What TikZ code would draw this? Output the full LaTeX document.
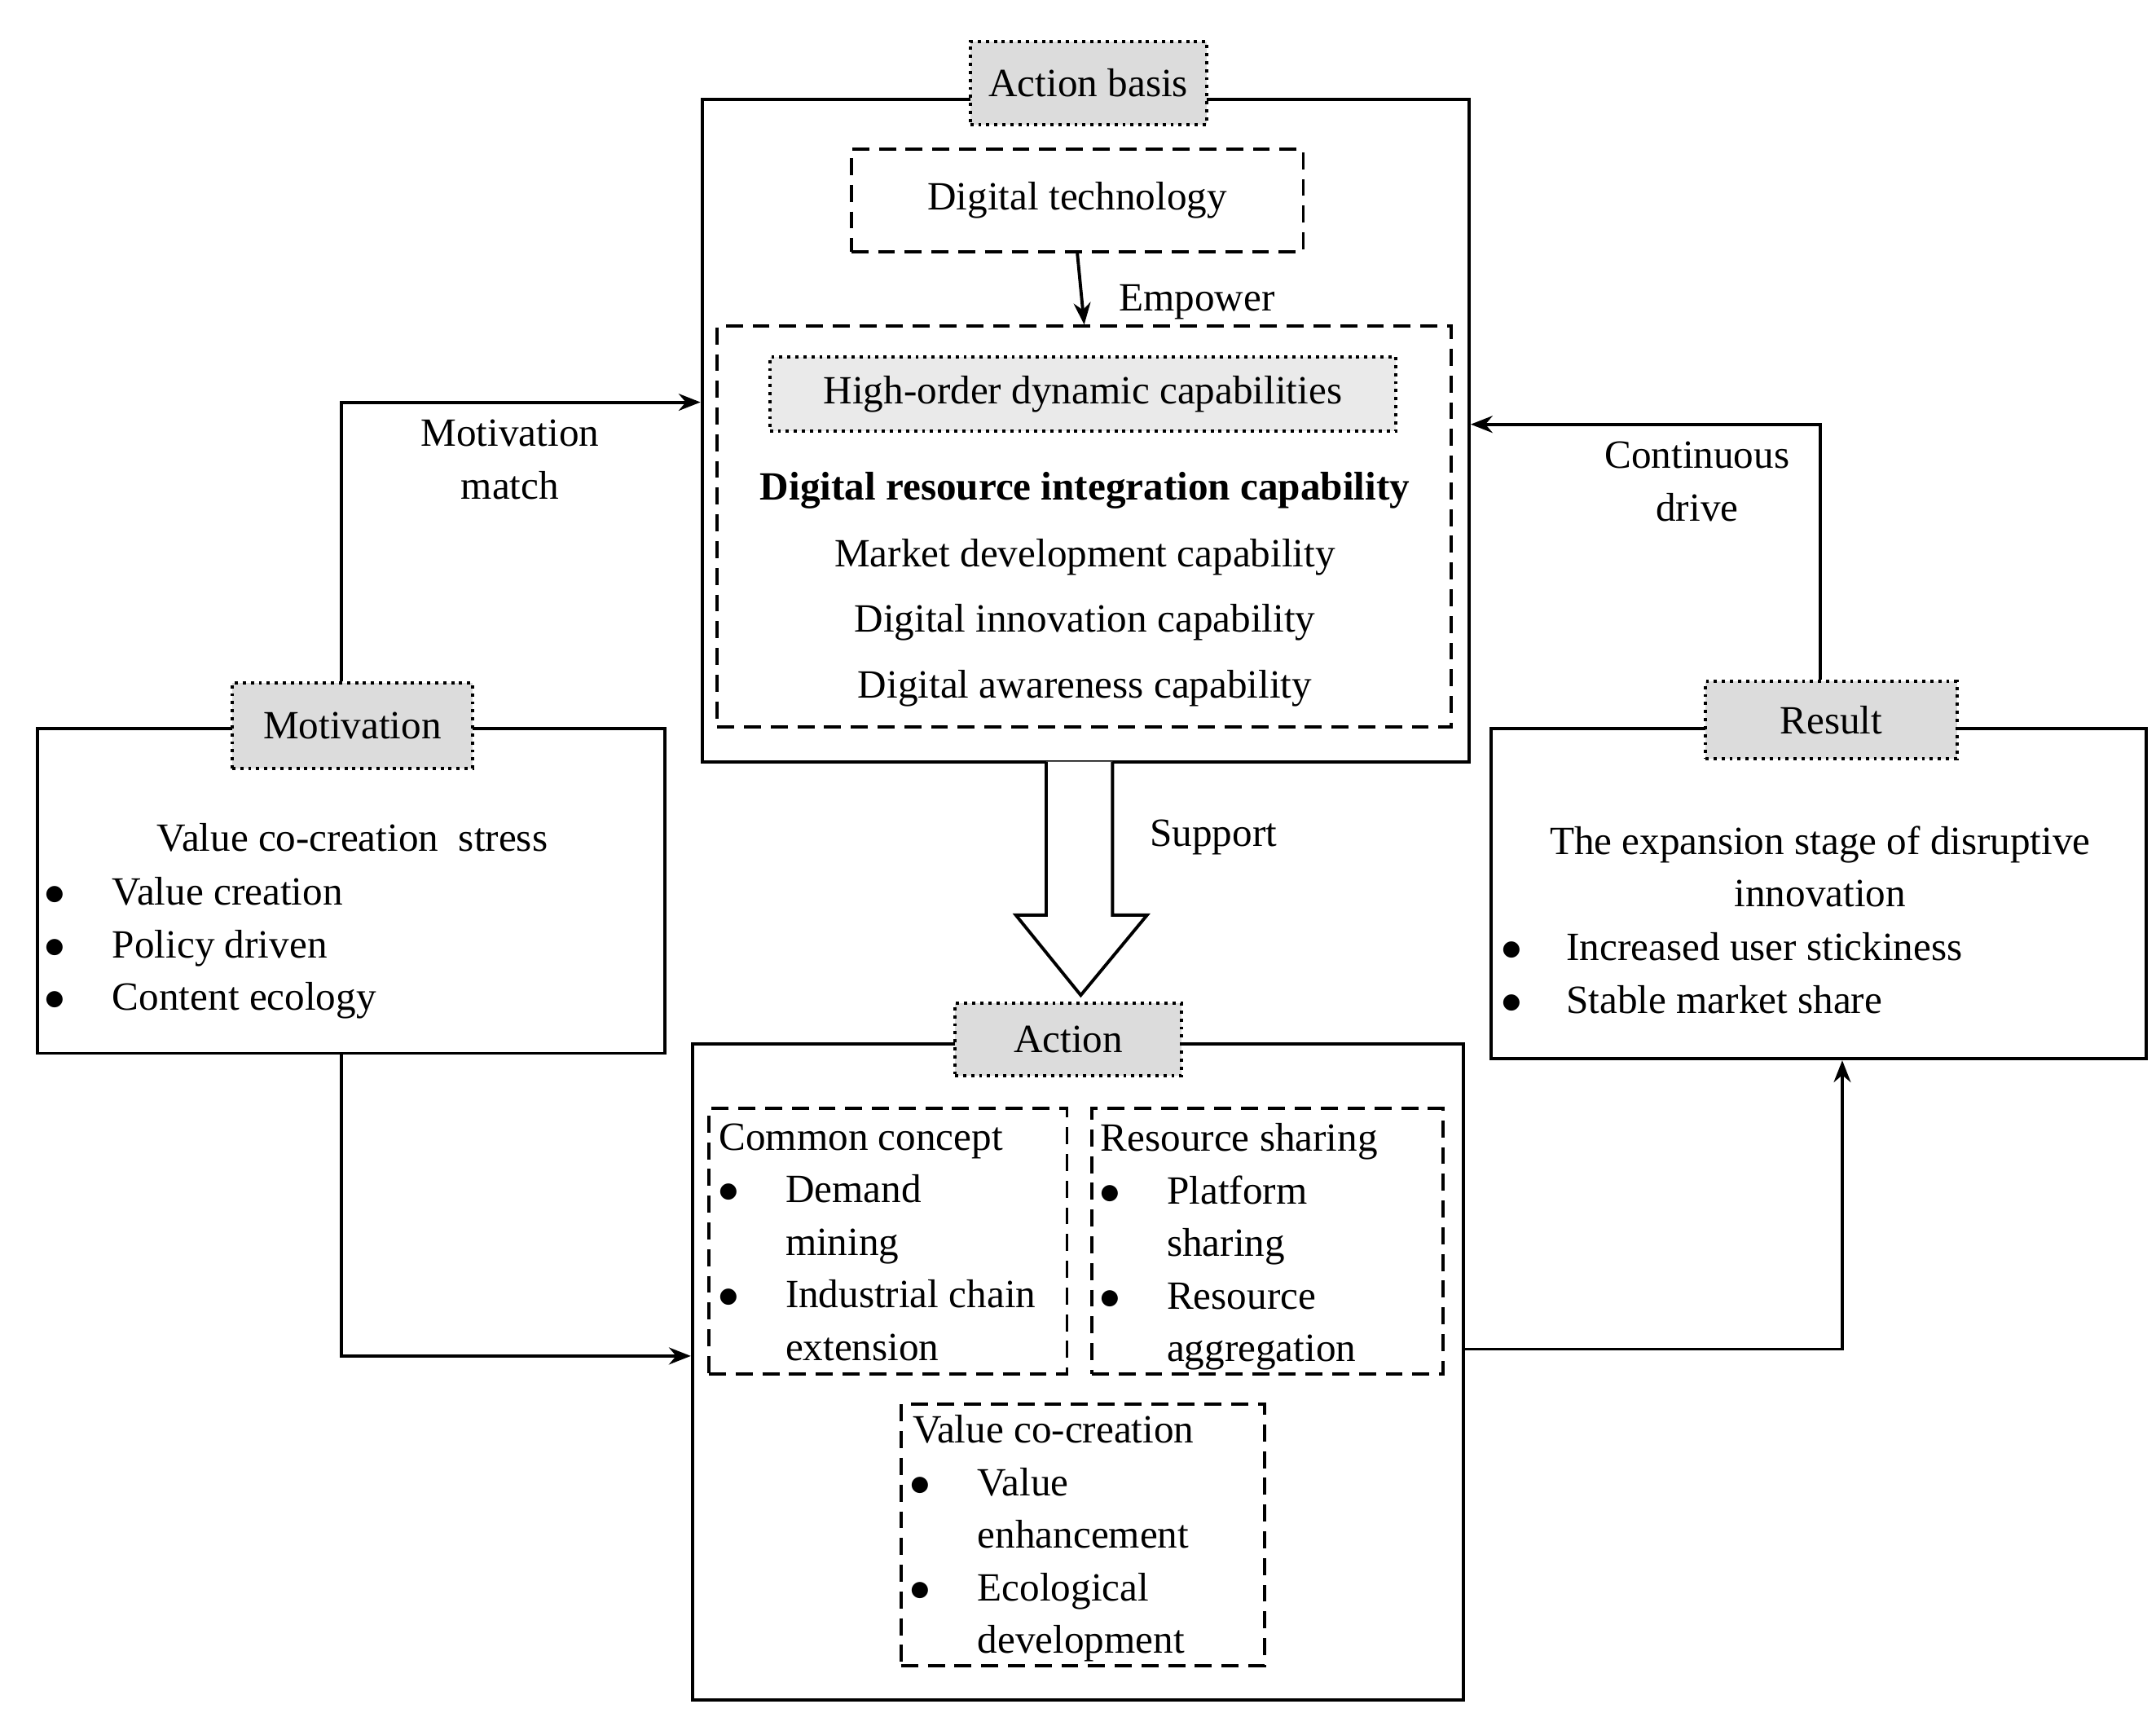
\documentclass[tikz,border=0pt]{standalone}
\usepackage{fontspec}
\setmainfont{Liberation Serif}
\usetikzlibrary{fit,arrows.meta}
\definecolor{lab}{HTML}{DCDCDC}
\begin{document}
\fontsize{16.5}{20}\selectfont
\begin{tikzpicture}[x=0.02cm,y=-0.02cm,
  box/.style={draw,line width=1.3pt,inner sep=0pt},
  dbox/.style={box,dash pattern=on 7pt off 4pt},
  lbl/.style={draw,dotted,line width=1.3pt,fill=lab,inner sep=0pt},
  t/.style={inner sep=0pt,anchor=base},
  tl/.style={inner sep=0pt,anchor=base west},
  conn/.style={line width=1.3pt,-{Stealth[length=9pt,width=7pt]}}]
\useasboundingbox (0,0) rectangle (1560,1239);
% top
\node[box,fit={(508,72)(1063,551)}] (top) {};
\node[lbl,fit={(702,30)(873,90)}] (tlab) {};
\node at (tlab) {Action basis};
\node[dbox,fit={(616,108)(943,182)}] (tech) {};
\node at (tech) {Digital technology};
\node[dbox,fit={(519,236)(1050,526)}] (cap) {};
\draw[conn] (tech.south) -- (cap.north);
\node[t] at (866,225) {Empower};
\node[draw,dotted,line width=1.3pt,fill=lab!60,inner sep=0pt,fit={(557,258)(1010,312)}] (hod) {};
\node at (hod) {High-order dynamic capabilities};
\node[t,font=\bfseries] at (785,362) {Digital resource integration capability};
\node[t] at (785,410) {Market development capability};
\node[t] at (785,457) {Digital innovation capability};
\node[t] at (785,505) {Digital awareness capability};
% motivation
\node[box,fit={(27,527)(481,762)}] (mot) {};
\node[lbl,fit={(168,494)(342,556)}] (mlab) {};
\node at (mlab) {Motivation};
\node[t] at (255,616) {Value co-creation\ \ stress};
\foreach \y/\s in {655/Value creation,693/Policy driven,731/Content ecology}{
  \node[t] at (40,\y) {$\bullet$};
  \node[tl] at (81,\y) {\s};}
% result
\node[box,fit={(1079,527)(1553,766)}] (res) {};
\node[lbl,fit={(1234,493)(1416,549)}] (rlab) {};
\node at (rlab) {Result};
\node[t] at (1317,618) {The expansion stage of disruptive};
\node[t] at (1317,656) {innovation};
\foreach \y/\s in {695/Increased user stickiness,733/Stable market share}{
  \node[t] at (1094,\y) {$\bullet$};
  \node[tl] at (1133,\y) {\s};}
% action
\node[box,fit={(501,755)(1059,1230)}] (act) {};
\node[lbl,fit={(691,726)(855,778)}] (alab) {};
\node at (alab) {Action};
\node[dbox,fit={(513,802)(772,994)}] (cc) {};
\node[tl] at (520,832) {Common concept};
\node[dbox,fit={(790,802)(1044,994)}] (rs) {};
\node[tl] at (796,833) {Resource sharing};
\node[dbox,fit={(652,1016)(915,1205)}] (vc) {};
\node[tl] at (660,1044) {Value co-creation};
\foreach \x/\y/\s in {527/870/Demand,527/908/mining,527/946/Industrial chain,527/984/extension,
  803/871/Platform,803/909/sharing,803/947/Resource,803/985/aggregation,
  666/1082/Value,666/1120/enhancement,666/1158/Ecological,666/1196/development}{
  \node[tl] at (\x+41,\y) {\s};}
\foreach \x/\y in {527/870,527/946,803/871,803/947,666/1082,666/1158}
  \node[t] at (\x,\y) {$\bullet$};
% support arrow
\draw[line width=1.3pt,fill=white] (757,551) -- (757,662) -- (735,662) -- (782,720)
  -- (830,662) -- (805,662) -- (805,551);
\node[t] at (878,612) {Support};
% connectors
\draw[conn] (mlab.north -| 247,0) |- (247,291) -- (top.west |- 0,291);
\node[t] at (369,323) {Motivation};
\node[t] at (369,361) {match};
\draw[conn] (rlab.north -| 1317,0) |- (top.east |- 0,307);
\node[t] at (1228,339) {Continuous};
\node[t] at (1228,377) {drive};
\draw[conn] (mot.south -| 247,0) |- (act.west |- 0,981);
\draw[conn] (act.east |- 0,976) -| (res.south -| 1333,0);
\end{tikzpicture}
\end{document}
